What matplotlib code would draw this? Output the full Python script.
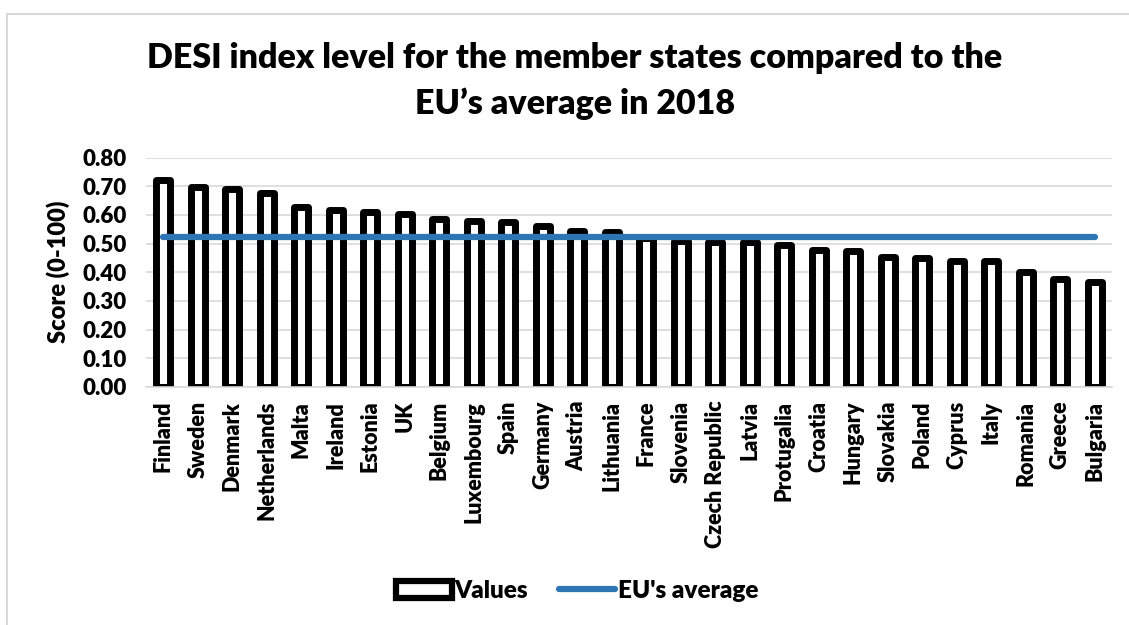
import matplotlib.pyplot as plt
from matplotlib.lines import Line2D
from matplotlib.patches import Patch

plt.rcParams['font.family'] = ['Lato', 'DejaVu Sans']
plt.rcParams['font.weight'] = 'bold'

countries = ['Finland', 'Sweden', 'Denmark', 'Netherlands', 'Malta', 'Ireland', 'Estonia', 'UK',
             'Belgium', 'Luxembourg', 'Spain', 'Germany', 'Austria', 'Lithuania', 'France', 'Slovenia',
             'Czech Republic', 'Latvia', 'Protugalia', 'Croatia', 'Hungary', 'Slovakia', 'Poland',
             'Cyprus', 'Italy', 'Romania', 'Greece', 'Bulgaria']
values = [0.722, 0.697, 0.690, 0.676, 0.627, 0.618, 0.611, 0.603,
          0.587, 0.579, 0.574, 0.560, 0.542, 0.539, 0.520, 0.509,
          0.507, 0.507, 0.495, 0.476, 0.474, 0.453, 0.450,
          0.439, 0.438, 0.401, 0.375, 0.365]
eu_average = 0.523

blue = '#2e75b6'

fig = plt.figure(figsize=(11.29, 6.25), dpi=100)
ax = fig.add_axes([0.1293, 0.381, 0.8557, 0.367])

x = list(range(len(countries)))
ax.bar(x, values, width=0.4, facecolor='white', edgecolor='black', linewidth=5,
       joinstyle='round', zorder=2)
ax.plot([x[0], x[-1]], [eu_average] * 2, color=blue, linewidth=4.5,
        solid_capstyle='round', zorder=3)

ax.set_xlim(-0.5, len(countries) - 0.5)
ax.set_ylim(0, 0.8)
ax.set_yticks([i / 10 for i in range(9)])
ax.set_yticklabels(['%.2f' % (i / 10) for i in range(9)], fontsize=16, fontweight='heavy')
ax.set_xticks(x)
ax.set_xticklabels(countries, rotation=90, fontsize=15.5, fontweight='heavy')
ax.tick_params(length=0, pad=10)
ax.tick_params(axis='y', pad=14)
ax.grid(axis='y', color='#d9d9d9', linewidth=1.2, zorder=0)
ax.set_axisbelow(True)
for s in ['top', 'right', 'left']:
    ax.spines[s].set_visible(False)
ax.spines['bottom'].set_color('#d9d9d9')
ax.spines['bottom'].set_linewidth(1.2)
ax.set_ylabel('Score (0-100)', fontsize=17, fontweight='heavy', labelpad=9)

fig.text(0.509, 0.908, 'DESI index level for the member states compared to the',
         ha='center', va='center', fontsize=24.5, fontweight='heavy')
fig.text(0.509, 0.834, "EU\u2019s average in 2018",
         ha='center', va='center', fontsize=24.5, fontweight='heavy')

handles = [Patch(facecolor='white', edgecolor='black', linewidth=4.5, joinstyle='round'),
           Line2D([0], [0], color=blue, linewidth=4.5, solid_capstyle='round')]
fig.legend(handles, ['Values', "EU's average"], loc='center', bbox_to_anchor=(0.511, 0.055),
           ncol=2, frameon=False, handlelength=2.3, handletextpad=0.1,
           columnspacing=1.3, prop={'weight': 'heavy', 'size': 17.5})

# chart border (top and left visible)
fig.add_artist(Line2D([7 / 1129, 1.0], [1 - 14 / 625] * 2, color='#d9d9d9', linewidth=1.5))
fig.add_artist(Line2D([7 / 1129] * 2, [0, 1 - 14 / 625], color='#d9d9d9', linewidth=1.5))

fig.savefig('out.png', dpi=100)
